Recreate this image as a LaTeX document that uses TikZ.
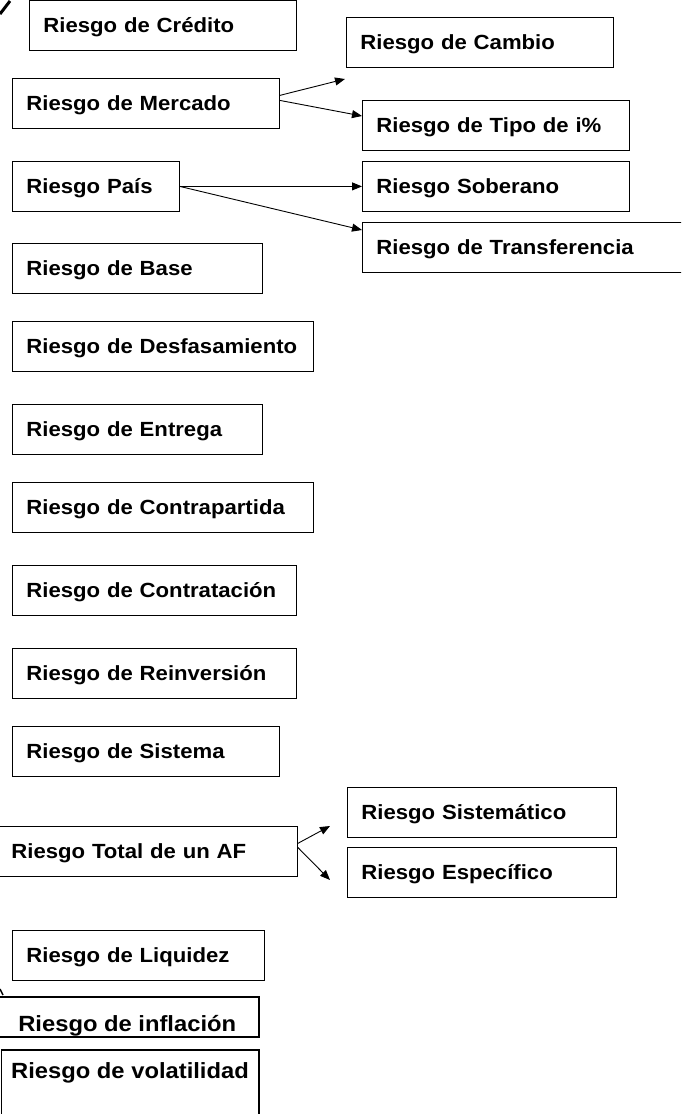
\documentclass[tikz,border=0pt]{standalone}
\usepackage{fontspec}
\setmainfont{Liberation Sans}[FakeStretch=1.08]
\usetikzlibrary{arrows.meta,calc}
\tikzset{
  caja/.style={draw, line width=0.8pt, anchor=north west, inner xsep=14pt, inner ysep=0pt,
    text height=32pt, text depth=18pt, align=left, text width=#1,
    font=\bfseries\fontsize{20.5}{24}\selectfont},
  flecha/.style={line width=0.9pt, -{Triangle[length=10pt,width=8pt]}}
}
\begin{document}
\begin{tikzpicture}[x=1pt,y=-1pt]
\useasboundingbox (0,0) rectangle (681,1114);
\clip (0,0) rectangle (681,1114);
% columna izquierda
\node[caja=239pt] (credito) at (29,0) {Riesgo de Crédito};
\node[caja=239pt] (mercado) at (12,78) {Riesgo de Mercado};
\node[caja=139pt] (pais) at (12,161) {Riesgo País};
\node[caja=222pt] (base) at (12,243) {Riesgo de Base};
\node[caja=273pt] (desfas) at (12,321) {Riesgo de Desfasamiento};
\node[caja=222pt] (entrega) at (12,404) {Riesgo de Entrega};
\node[caja=273pt] (contrap) at (12,482) {Riesgo de Contrapartida};
\node[caja=256pt] (contrat) at (12,565) {Riesgo de Contratación};
\node[caja=256pt] (reinv) at (12,648) {Riesgo de Reinversión};
\node[caja=239pt] (sistema) at (12,726) {Riesgo de Sistema};
\node[caja=272pt] (total) at (-3,826) {Riesgo Total de un AF};
\node[caja=224pt] (liquidez) at (12,930) {Riesgo de Liquidez};
\node[caja={}, minimum width=263pt, line width=1.5pt, inner xsep=8pt, text height=35pt, text depth=5pt,
  font=\bfseries\fontsize{22}{26}\selectfont] (inflacion) at (-5,996) {Riesgo de inflación};
\node[caja={}, minimum width=257.5pt, line width=1.5pt, inner xsep=8pt, text height=29pt, text depth=60pt,
  font=\bfseries\fontsize{22}{26}\selectfont] (volat) at (0.5,1049) {Riesgo de volatilidad};
% columna derecha
\node[caja=239pt] (cambio) at (346,17) {Riesgo de Cambio};
\node[caja=239pt] (tipo) at (362,100) {Riesgo de Tipo de i\%};
\node[caja=239pt] (soberano) at (362,161) {Riesgo Soberano};
\node[caja=302pt] (transf) at (362,222) {Riesgo de Transferencia};
\node[caja=241pt] (sistematico) at (347,787) {Riesgo Sistemático};
\node[caja=241pt] (especifico) at (347,847) {Riesgo Específico};
% extremos libres
\coordinate (puntaCambio) at (345,79);
\coordinate (puntaSist) at (330,826);
\coordinate (puntaEsp) at (330,880);
% flechas
\draw[flecha] ($(mercado.east)+(0,-8)$) -- (puntaCambio);
\draw[flecha] ($(mercado.east)+(0,-3)$) -- ($(tipo.north west)+(0,16)$);
\draw[flecha] (pais.east) -- (soberano.west);
\draw[flecha] (pais.east) -- ($(transf.north west)+(0,8)$);
\draw[flecha] ($(total.east)+(0,-8)$) -- (puntaSist);
\draw[flecha] ($(total.east)+(0,-4)$) -- (puntaEsp);
% restos de la llave
\draw[line width=3pt] (0,14) -- (10,1);
\draw[line width=1.5pt] (0,989) -- (3,995);
\end{tikzpicture}
\end{document}
